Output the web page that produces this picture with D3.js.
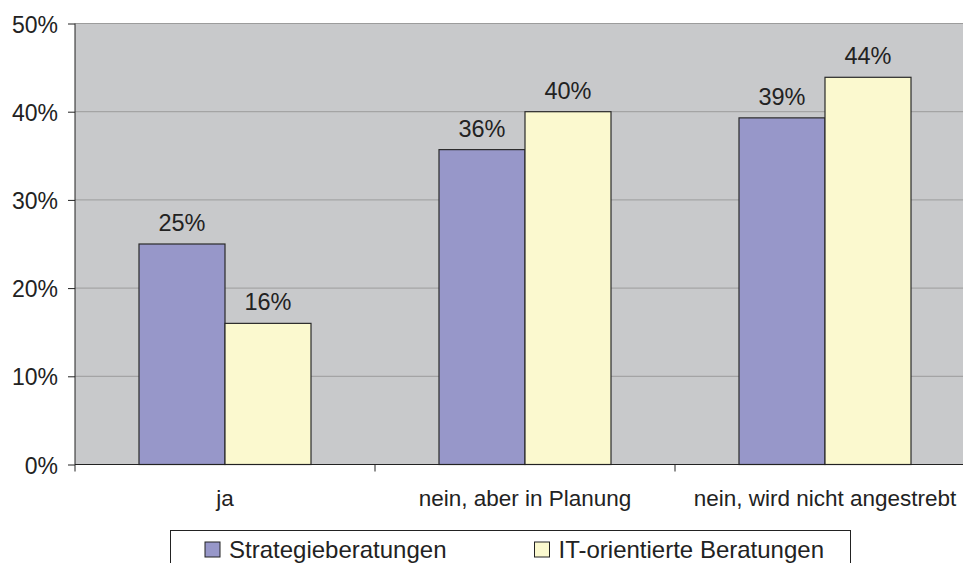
<!DOCTYPE html>
<html><head><meta charset="utf-8">
<script src="https://cdn.jsdelivr.net/npm/d3@7"></script>
<style>body{margin:0;background:#fff;} svg{display:block;font-family:"Liberation Sans",Arial,sans-serif;}</style>
</head><body>
<svg id="c" width="963" height="563"></svg>
<script>
const categories = ["ja", "nein, aber in Planung", "nein, wird nicht angestrebt"];
const seriesNames = ["Strategieberatungen", "IT-orientierte Beratungen"];
const strategie = [25, 35.7, 39.3];
const itOrientiert = [16, 40, 43.9];
const yTicks = [0, 10, 20, 30, 40, 50];
const colors = ["#9797c9", "#fbf9cf"];

const svg = d3.select("#c");
const L = 75, R = 975, T = 23.5, B = 464.5;
const x = d3.scaleBand().domain(categories).range([L, R]);
const y = d3.scaleLinear().domain([0, 50]).range([B, T]);
const bw = 86;
const x1 = d3.scaleBand().domain(seriesNames).range([0, 2 * bw]);

svg.append("rect").attr("x", L).attr("y", T).attr("width", R - L).attr("height", B - T).attr("fill", "#c8c9cb");
svg.selectAll(".grid").data(yTicks.filter(d => d > 0)).join("line")
  .attr("x1", L).attr("x2", R).attr("y1", d => y(d)).attr("y2", d => y(d))
  .attr("stroke", "#9c9c9c").attr("stroke-width", 1);

const series = [strategie, itOrientiert];
series.forEach((vals, si) => {
  const g = svg.append("g");
  g.selectAll("rect").data(vals).join("rect")
    .attr("x", (d, i) => x(categories[i]) + (x.bandwidth() - 2 * bw) / 2 + x1(seriesNames[si]))
    .attr("y", d => y(d)).attr("width", bw).attr("height", d => B - y(d))
    .attr("fill", colors[si]).attr("stroke", "#2a2a2a").attr("stroke-width", 1.2);
  g.selectAll("text").data(vals).join("text")
    .attr("x", (d, i) => x(categories[i]) + (x.bandwidth() - 2 * bw) / 2 + x1(seriesNames[si]) + bw / 2)
    .attr("y", d => y(d) - 13).attr("text-anchor", "middle")
    .attr("font-size", 23.5).attr("fill", "#222")
    .text(d => Math.round(d) + "%");
});

// y axis
const ya = svg.append("g").attr("transform", `translate(${L},0)`)
  .call(d3.axisLeft(y).tickValues(yTicks).tickSize(7).tickFormat(d => d + "%"));
ya.select(".domain").attr("stroke", "#222").attr("d", `M0,${T}V${B}`);
ya.selectAll(".tick line").attr("stroke", "#222");
ya.selectAll(".tick text").attr("font-size", 23).attr("fill", "#222").attr("x", -17).attr("dy", "0.37em")
  .attr("font-family", "Liberation Sans, Arial, sans-serif");

// x axis
const xa = svg.append("g").attr("transform", `translate(0,${B})`)
  .call(d3.axisBottom(x).tickSize(0).tickPadding(26));
xa.select(".domain").attr("stroke", "#222").attr("d", `M${L},0H${R}`);
xa.selectAll(".tick text").attr("font-size", 22.5).attr("fill", "#222")
  .attr("font-family", "Liberation Sans, Arial, sans-serif");
const bounds = [L].concat(categories.map(c => x(c) + x.bandwidth()));
svg.selectAll(".xt").data(bounds).join("line")
  .attr("x1", d => d).attr("x2", d => d).attr("y1", B).attr("y2", B + 7).attr("stroke", "#222");

// legend
const lg = svg.append("g");
lg.append("rect").attr("x", 170.5).attr("y", 530.5).attr("width", 680).attr("height", 40)
  .attr("fill", "#fff").attr("stroke", "#222");
const t0 = lg.append("text").attr("x", 229).attr("y", 558).attr("font-size", 24).attr("fill", "#222").text(seriesNames[0]);
lg.append("rect").attr("x", 205).attr("y", 542).attr("width", 15).attr("height", 15)
  .attr("fill", colors[0]).attr("stroke", "#222");
const t1 = lg.append("text").attr("y", 558).attr("font-size", 24).attr("fill", "#222").text(seriesNames[1]);
const w1 = t1.node().getComputedTextLength();
const tx1 = 824 - w1;
t1.attr("x", tx1);
lg.append("rect").attr("x", tx1 - 24).attr("y", 542).attr("width", 15).attr("height", 15)
  .attr("fill", colors[1]).attr("stroke", "#222");
</script>
</body></html>
